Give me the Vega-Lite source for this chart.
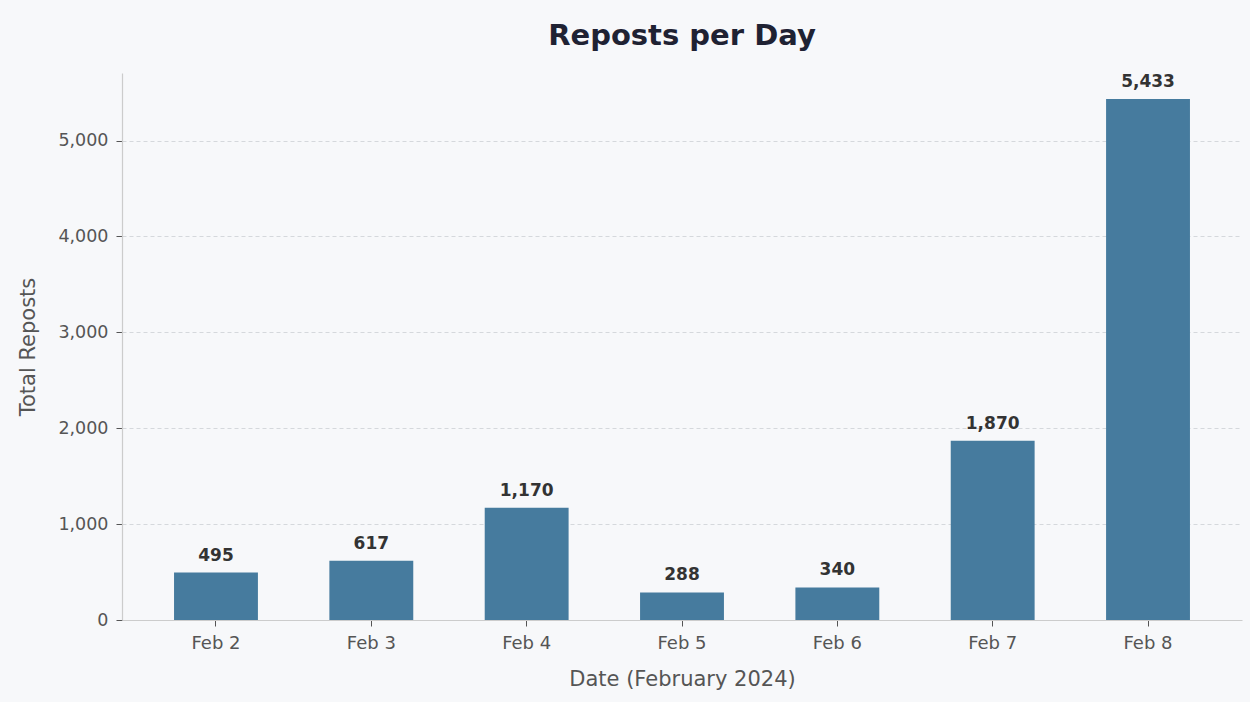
{
  "$schema": "https://vega.github.io/schema/vega-lite/v6.json",
  "width": 1120,
  "height": 547,
  "autosize": {"type": "none"},
  "padding": {"left": 122, "top": 73, "right": 8, "bottom": 82},
  "background": "#f7f8fa",
  "config": {
    "font": "DejaVu Sans",
    "view": {"stroke": null},
    "axis": {"domainColor": "#cccccc", "tickColor": "#555555", "labelColor": "#555555", "titleColor": "#555555", "labelFont": "DejaVu Sans", "titleFont": "DejaVu Sans", "titleFontWeight": "normal"}
  },
  "title": {"text": "Reposts per Day", "fontSize": 29, "fontWeight": "bold", "color": "#1f2233", "font": "DejaVu Sans", "anchor": "middle", "offset": 22},
  "data": {"values": [
    {"date": "Feb 2", "reposts": 495},
    {"date": "Feb 3", "reposts": 617},
    {"date": "Feb 4", "reposts": 1170},
    {"date": "Feb 5", "reposts": 288},
    {"date": "Feb 6", "reposts": 340},
    {"date": "Feb 7", "reposts": 1870},
    {"date": "Feb 8", "reposts": 5433}
  ]},
  "encoding": {
    "x": {"field": "date", "type": "nominal", "sort": null,
      "scale": {"paddingInner": 0.46, "paddingOuter": 0.335},
      "axis": {"title": "Date (February 2024)", "labelAngle": 0, "labelFontSize": 18, "titleFontSize": 21, "tickSize": 6, "labelPadding": 8, "titlePadding": 16, "grid": false, "domainWidth": 1.2}},
    "y": {"field": "reposts", "type": "quantitative",
      "scale": {"domain": [0, 5705], "nice": false, "zero": true},
      "axis": {"title": "Total Reposts", "values": [0, 1000, 2000, 3000, 4000, 5000], "format": ",d", "labelFontSize": 17.5, "titleFontSize": 21, "tickSize": 6, "labelPadding": 8, "titlePadding": 19, "grid": true, "gridColor": "#d5d8dc", "gridDash": [4, 3], "gridWidth": 1, "domainWidth": 1.2}}
  },
  "layer": [
    {"mark": {"type": "bar", "color": "#467b9e"}},
    {"mark": {"type": "text", "baseline": "alphabetic", "dy": -12, "fontSize": 17, "fontWeight": "bold", "color": "#333333", "font": "DejaVu Sans"},
     "encoding": {"text": {"field": "reposts", "type": "quantitative", "format": ",d"}}}
  ]
}
